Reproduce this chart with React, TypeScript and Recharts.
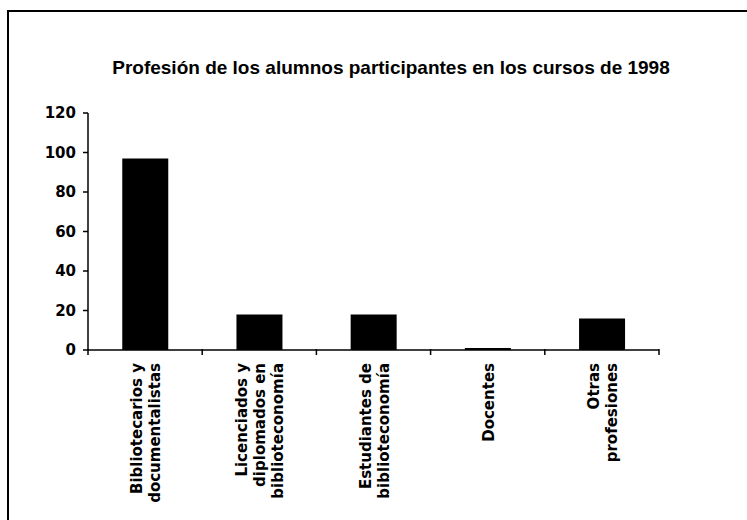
import { BarChart, Bar, XAxis, YAxis, Customized } from 'recharts'

const categories = [
  'Bibliotecarios y documentalistas',
  'Licenciados y diplomados en biblioteconomía',
  'Estudiantes de biblioteconomía',
  'Docentes',
  'Otras profesiones',
]

// how each category label is broken into lines
const labelLines = [
  ['Bibliotecarios y', 'documentalistas'],
  ['Licenciados y', 'diplomados en', 'biblioteconomía'],
  ['Estudiantes de', 'biblioteconomía'],
  ['Docentes'],
  ['Otras', 'profesiones'],
]

const alumnos = [97, 18, 18, 1, 16]
const yTicks = [0, 20, 40, 60, 80, 100, 120]
const title = 'Profesión de los alumnos participantes en los cursos de 1998'

const data = categories.map((name, i) => ({ name, alumnos: alumnos[i], idx: i }))

const labelFont = '"DejaVu Sans", sans-serif'

function CategoryTick(props: any) {
  const { x, y, payload, index, visibleTicksCount, width } = props
  const half = payload.offset ?? width / (2 * visibleTicksCount)
  const axisY = y - 13
  const lines = labelLines[index] || [payload.value]
  const n = lines.length
  return (
    <g>
      <line x1={x - half} x2={x - half} y1={axisY - 1} y2={axisY + 5} stroke="#000" strokeWidth={1.5} />
      {index === visibleTicksCount - 1 && (
        <line x1={x + half} x2={x + half} y1={axisY - 1} y2={axisY + 5} stroke="#000" strokeWidth={1.5} />
      )}
      <g transform={`translate(${x},${y}) rotate(-90)`}>
        {lines.map((t: string, i: number) => (
          <text
            key={i}
            x={0}
            y={6 + (i - (n - 1) / 2) * 18}
            textAnchor="end"
            fontFamily={labelFont}
            fontWeight="bold"
            fontSize={15}
            fill="#000"
          >
            {t}
          </text>
        ))}
      </g>
    </g>
  )
}

function Title() {
  return (
    <text
      x={391}
      y={74}
      textAnchor="middle"
      fontFamily='"Liberation Sans", Arial, sans-serif'
      fontWeight="bold"
      fontSize={19}
      fill="#000"
    >
      {title}
    </text>
  )
}

export default function App() {
  return (
    <div style={{ position: 'absolute', left: 0, top: 0, width: 747, height: 520, background: '#fff' }}>
      <div
        style={{
          position: 'absolute',
          left: 7,
          top: 10,
          width: 740,
          height: 510,
          borderTop: '2px solid #000',
          borderLeft: '2px solid #000',
        }}
      />
      <BarChart
        width={747}
        height={520}
        data={data}
        margin={{ top: 113, right: 88, bottom: 0, left: 0 }}
        barCategoryGap="30%"
      >
        <Customized component={<Title />} />
        <XAxis
          dataKey="name"
          height={170}
          interval={0}
          stroke="#000"
          strokeWidth={1.5}
          tickLine={false}
          tickSize={0}
          tickMargin={13}
          tick={<CategoryTick />}
        />
        <YAxis
          width={88}
          domain={[0, 120]}
          ticks={yTicks}
          interval={0}
          stroke="#000"
          strokeWidth={1.5}
          tickSize={5}
          tickMargin={7}
          tick={{ fill: '#000', fontFamily: labelFont, fontWeight: 'bold', fontSize: 15 }}
        />
        <Bar dataKey="alumnos" fill="#000" isAnimationActive={false} />
      </BarChart>
    </div>
  )
}
